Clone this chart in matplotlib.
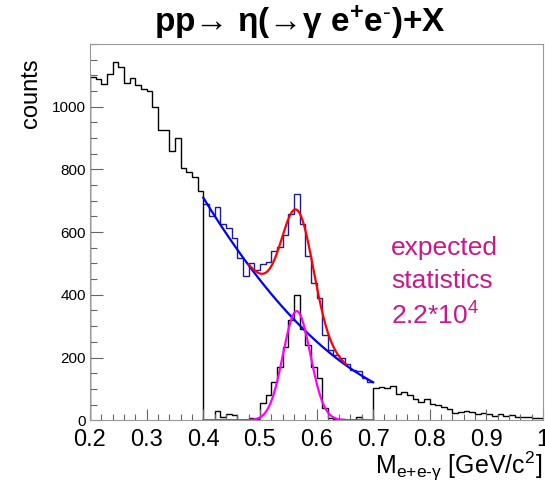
import numpy as np
import matplotlib
matplotlib.use('Agg')
import matplotlib.pyplot as plt
from matplotlib.ticker import MultipleLocator

plt.rcParams['font.family'] = ['Liberation Sans', 'DejaVu Sans']
plt.rcParams['mathtext.fontset'] = 'custom'
plt.rcParams['mathtext.rm'] = 'Liberation Sans'
plt.rcParams['mathtext.it'] = 'Liberation Sans:italic'
plt.rcParams['mathtext.bf'] = 'Liberation Sans:bold'
plt.rcParams['mathtext.sf'] = 'Liberation Sans'

# ---------------- data (bin width 0.01 GeV/c^2) ----------------
# total spectrum below the fit window, 0.20 - 0.40
total_low = [1094, 1089, 1072, 1103, 1142, 1126, 1075, 1091, 1069, 1056,
             1050, 1000, 926, 926, 859, 899, 804, 791, 775, 731]
# total spectrum inside the fit window, 0.40 - 0.70 (blue)
total_fit = [689, 652, 680, 625, 614, 582, 518, 461, 500, 479,
             497, 504, 540, 554, 591, 657, 721, 625, 525, 437,
             389, 272, 224, 208, 197, 178, 160, 157, 136, 123]
# background-subtracted signal, 0.40 - 0.70 (black)
signal = [0, 0, 30, 10, 20, 18, 0, 0, 8, 3,
          54, 80, 122, 170, 234, 319, 399, 290, 240, 170,
          134, 38, 8, 3, 3, 0, 0, 11, 0, 0]
# total spectrum above the fit window, 0.70 - 1.00
total_high = [104, 106, 102, 109, 84, 91, 80, 68, 57, 67,
              52, 50, 41, 35, 24, 27, 30, 27, 19, 24,
              20, 13, 19, 14, 17, 11, 11, 11, 8, 6]

# fit parameters
bg_pol2 = [341.0, -1963.0, 3311.0]     # background pol2 in (m - 0.55)
bg_ref = 0.55
sum_gaus = [360.0, 0.567, 0.028]       # red: background + gaussian
sig_gaus = [348.0, 0.565, 0.024]       # magenta: gaussian on signal
fit_range = [0.40, 0.70]
red_range = [0.48, 0.652]

x_ticks = [0.2, 0.3, 0.4, 0.5, 0.6, 0.7, 0.8, 0.9, 1.0]
x_ticklabels = ['0.2', '0.3', '0.4', '0.5', '0.6', '0.7', '0.8', '0.9', '1']
y_ticks = [0, 200, 400, 600, 800, 1000]

# ---------------- figure ----------------
W, H = 545, 482
fig = plt.figure(figsize=(W / 100, H / 100), dpi=100)
ax = fig.add_axes([90 / W, (H - 420.2) / H, 453 / W, 376.2 / H])

n_low, n_fit, n_high = len(total_low), len(total_fit), len(total_high)
edges_all = np.linspace(0.2, 1.0, n_low + n_fit + n_high + 1)
edges_fit = np.linspace(fit_range[0], fit_range[1], n_fit + 1)

black_vals = np.concatenate([total_low, signal, total_high])
ax.stairs(black_vals, edges_all, color='black', lw=1.0, baseline=0)
ax.stairs(total_fit, edges_fit, color='#1a1a9c', lw=1.0, baseline=None)


def pol2(m, p):
    t = m - bg_ref
    return p[0] + p[1] * t + p[2] * t * t


def gaus(m, p):
    return p[0] * np.exp(-0.5 * ((m - p[1]) / p[2]) ** 2)


m_fit = np.linspace(fit_range[0], fit_range[1], 400)
ax.plot(m_fit, pol2(m_fit, bg_pol2), color='#0000ff', lw=1.6)
m_red = np.linspace(red_range[0], red_range[1], 400)
ax.plot(m_red, pol2(m_red, bg_pol2) + gaus(m_red, sum_gaus), color='#ff0000', lw=1.6)
ax.plot(m_fit, gaus(m_fit, sig_gaus), color='#ff00ff', lw=1.6)

ax.set_xlim(0.2, 1.0)
ax.set_ylim(0, 1200)
ax.set_xticks(x_ticks)
ax.set_xticklabels(x_ticklabels)
ax.set_yticks(y_ticks)
ax.xaxis.set_minor_locator(MultipleLocator(0.02))
ax.yaxis.set_minor_locator(MultipleLocator(50))
ax.tick_params(axis='x', which='major', direction='in', length=8, width=0.8,
               color='#666666', labelsize=17, pad=6, top=False)
ax.tick_params(axis='x', which='minor', direction='in', length=4, width=0.8,
               color='#666666', top=False)
ax.tick_params(axis='y', which='major', direction='in', length=9.5, width=0.8,
               color='#666666', labelsize=11, pad=3, right=False)
ax.tick_params(axis='y', which='minor', direction='in', length=4.8, width=0.8,
               color='#666666', right=False)
for s in ax.spines.values():
    s.set_color('#999999')
    s.set_linewidth(0.8)

title = ('pp→ η(→γ e' + r'$^{\mathbf{+}}$' + 'e' + r'$^{\text{-}}$' + ')+X')
fig.text(300 / W, 1 - 22 / H, title, ha='center', va='center',
         fontsize=24, fontweight='bold')

fig.text(542 / W, 8 / H, r'M$_{\text{e+e-γ}}$ [GeV/c$^{2}$]',
         ha='right', va='baseline', fontsize=18)
fig.text(31 / W, 1 - 58 / H, 'counts', rotation=90, ha='center', va='top',
         fontsize=17)

fig.text(391 / W, 1 - 236 / H, 'expected\nstatistics\n2.2*10$^{4}$',
         ha='left', va='top', fontsize=19, color='#c8188c',
         linespacing=1.45)

fig.savefig('out.png', dpi=100)
